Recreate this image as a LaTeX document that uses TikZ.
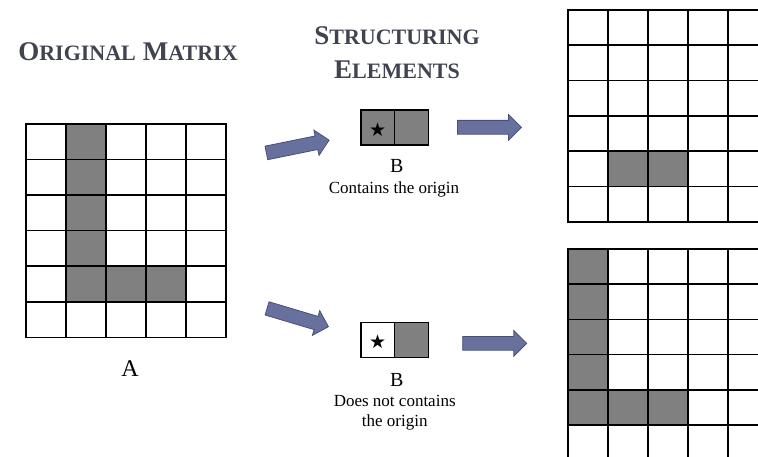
\documentclass[tikz,border=0pt]{standalone}
\usepackage{fontspec}
\setmainfont{Liberation Serif}
\newfontfamily\symfont{DejaVu Sans}
\usetikzlibrary{shapes.arrows}

\definecolor{titlegray}{RGB}{64,68,80}
\definecolor{cellgray}{RGB}{128,128,128}
\definecolor{arrowfill}{RGB}{104,112,158}
\definecolor{arrowline}{RGB}{72,80,122}

% fake small caps for the headings
\newcommand{\capsword}[2]{{\fontsize{27}{27}\selectfont #1}{\fontsize{22}{22}\selectfont #2}}

\tikzset{
    gridline/.style={black, line width=1.6pt, line cap=rect},
    blockarrow/.style={single arrow, draw=arrowline, fill=arrowfill, line width=0.8pt,
        minimum height=64pt, minimum width=25pt, single arrow head extend=6pt,
        inner xsep=0pt, inner ysep=6.5pt},
    heading/.style={anchor=base, text=titlegray, font=\bfseries},
    letter/.style={anchor=base, font=\fontsize{20}{20}\selectfont},
    caption/.style={anchor=base, align=center, font=\fontsize{17}{20}\selectfont},
    origin/.style={font=\symfont\fontsize{19}{19}\selectfont}
}

\begin{document}
\begin{tikzpicture}[x=1pt, y=-1pt, every node/.style={inner sep=0pt}]
    \clip (0,0) rectangle (758,457);

    \node[heading] (origtitle) at (128,60.3) {\capsword{O}{RIGINAL}\hspace{7pt}\capsword{M}{ATRIX}};
    \node[heading] (structitle) at (397,44.3) {\capsword{S}{TRUCTURING}};
    \node[heading] (elemtitle) at (397,79) {\capsword{E}{LEMENTS}};

    % Matrix A
    \begin{scope}[shift={(25.7,124)}, x=40pt, y=-35.55pt]
        \fill[cellgray] (1,0) rectangle (2,5) (2,4) rectangle (4,5);
        \foreach \i in {0,...,5} \draw[gridline] (\i,0) -- (\i,6);
        \foreach \j in {0,...,6} \draw[gridline] (0,\j) -- (5,\j);
    \end{scope}
    \node[letter, font=\fontsize{24}{24}\selectfont] (labA) at (130,376.7) {A};

    % B with the origin inside
    \begin{scope}[shift={(360.7,110)}, x=33.8pt, y=-35pt]
        \fill[cellgray] (0,0) rectangle (2,1);
        \draw[gridline] (0,0) rectangle (2,1) (1,0) -- (1,1);
        \node[origin] (starTop) at (0.5,0.55) {★};
    \end{scope}
    \node[letter] (labBtop) at (396.7,172.7) {B};
    \node[caption] (capTop) at (394,194) {Contains the origin};

    % B without the origin
    \begin{scope}[shift={(360.7,322.3)}, x=33.8pt, y=-35pt]
        \fill[cellgray] (1,0) rectangle (2,1);
        \draw[gridline] (0,0) rectangle (2,1) (1,0) -- (1,1);
        \node[origin] (starBot) at (0.5,0.55) {★};
    \end{scope}
    \node[letter] (labBbot) at (396.7,386) {B};
    \node[caption] (capBot) at (394.7,426.7) {Does not contains\\the origin};

    % Results
    \begin{scope}[shift={(567.7,10)}, x=40pt, y=-35.3pt]
        \fill[cellgray] (1,4) rectangle (3,5);
        \foreach \i in {0,...,5} \draw[gridline] (\i,0) -- (\i,6);
        \foreach \j in {0,...,6} \draw[gridline] (0,\j) -- (5,\j);
    \end{scope}
    \begin{scope}[shift={(567.7,249)}, x=40pt, y=-35.2pt]
        \fill[cellgray] (0,0) rectangle (1,5) (1,4) rectangle (3,5);
        \foreach \i in {0,...,5} \draw[gridline] (\i,0) -- (\i,6);
        \foreach \j in {0,...,6} \draw[gridline] (0,\j) -- (5,\j);
    \end{scope}

    % Arrows
    \node[blockarrow, rotate=11.5, anchor=tail] (arrA) at (266,153) {};
    \node[blockarrow, anchor=tail] (arrB) at (457,127.3) {};
    \node[blockarrow, rotate=-16.6, anchor=tail] (arrC) at (266.7,308.3) {};
    \node[blockarrow, anchor=tail] (arrD) at (462.3,343.3) {};
\end{tikzpicture}
\end{document}
